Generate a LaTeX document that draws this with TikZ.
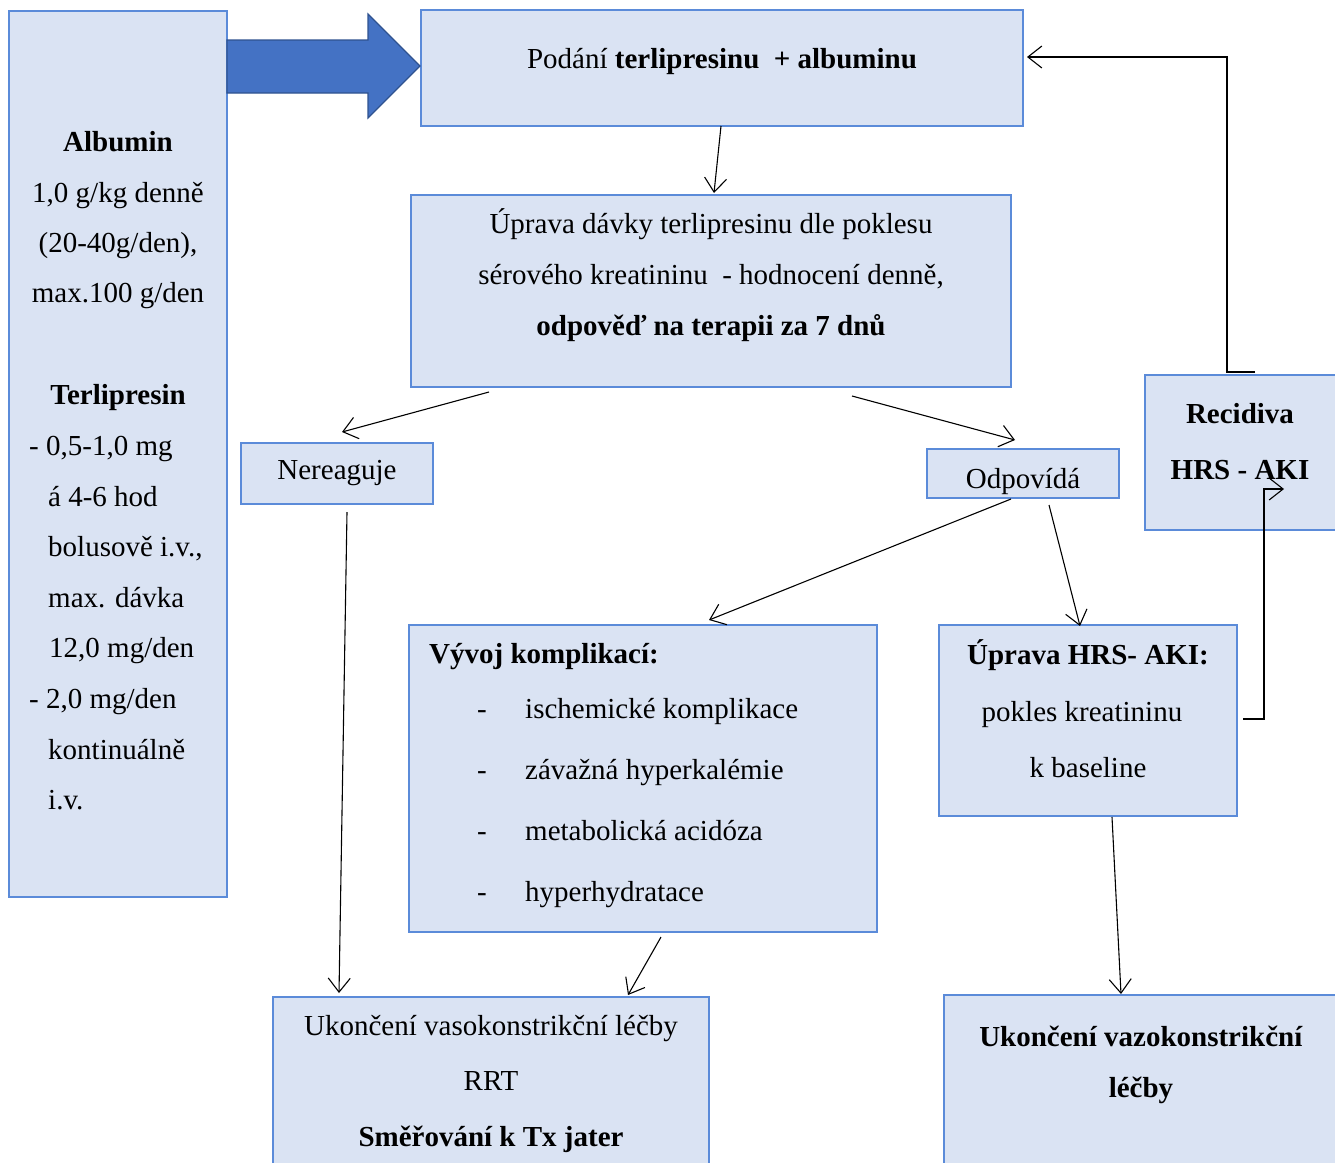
\documentclass[tikz,border=0pt]{standalone}
\usepackage{fontspec}
\setmainfont{Liberation Serif}
\usetikzlibrary{arrows.meta,calc}
\definecolor{boxfill}{HTML}{DAE3F3}
\definecolor{boxline}{HTML}{5B8BD9}
\definecolor{bigarrow}{HTML}{4472C4}
\definecolor{bigarrowline}{HTML}{2F528F}
\tikzset{
  panel/.style={draw=boxline, fill=boxfill, line width=1.3pt, anchor=north west, inner sep=0pt, outer sep=0pt},
  txt/.style={anchor=base, inner sep=0pt, font=\fontsize{29}{35}\selectfont},
  txtl/.style={txt, anchor=base west},
  conn/.style={-{Straight Barb[length=14pt,width=22pt,line width=1.1pt]}, line width=1.1pt, black},
}
\begin{document}
\begin{tikzpicture}[x=1pt,y=-1pt]
\clip (0,0) rectangle (1335,1162);
\fill[white] (0,0) rectangle (1335,1162);

% boxes
\node[panel, minimum width=218, minimum height=886] (alb) at (9,11) {};
\node[panel, minimum width=602, minimum height=116] (top) at (421,10) {};
\node[panel, minimum width=600, minimum height=192] (dose) at (411,195) {};
\node[panel, minimum width=192, minimum height=61] (nr) at (241,443) {};
\node[panel, minimum width=192, minimum height=49] (od) at (927,449) {};
\node[panel, minimum width=210, minimum height=155] (rec) at (1145,375) {};
\node[panel, minimum width=468, minimum height=307] (cx) at (409,625) {};
\node[panel, minimum width=298, minimum height=191] (hrs) at (939,625) {};
\node[panel, minimum width=436, minimum height=200] (endL) at (273,997) {};
\node[panel, minimum width=420, minimum height=200] (endR) at (944,995) {};

% big block arrow
\draw[fill=bigarrow, draw=bigarrowline, line width=1.2pt, line join=miter]
  (227,40) -- (368,40) -- (368,14) -- (420,66) -- (368,118) -- (368,93) -- (227,93) -- cycle;

% left box text
\node[txt] (t1) at (118,151) {\textbf{Albumin}};
\node[txt] (t2) at (118,202) {1,0 g/kg denně};
\node[txt] (t3) at (118,252) {(20-40g/den),};
\node[txt] (t4) at (118,302) {max.100 g/den};
\node[txt] (t5) at (118,404) {\textbf{Terlipresin}};
\node[txtl] (t6) at (29,455) {- 0,5-1,0 mg};
\node[txtl] (t7) at (48,506) {á 4-6 hod};
\node[txtl] (t8) at (48,556) {bolusově i.v.,};
\node[txtl] (t9) at (48,607) {max. dávka};
\node[txtl] (t10) at (49,657) {12,0 mg/den};
\node[txtl] (t11) at (29,708) {- 2,0 mg/den};
\node[txtl] (t12) at (48,759) {kontinuálně};
\node[txtl] (t13) at (48,809) {i.v.};

% top box
\node[txt] (p1) at (722,68) {Podání \textbf{terlipresinu\ \ + albuminu}};

% dose box
\node[txt] (d1) at (711,233) {Úprava dávky terlipresinu dle poklesu};
\node[txt] (d2) at (711,284) {sérového kreatininu\ \ - hodnocení denně,};
\node[txt] (d3) at (711,335) {\textbf{odpověď na terapii za 7 dnů}};

% Nereaguje
\node[txt] (n1) at (337,479) {Nereaguje};

% Odpovida (clipped by its box)
\begin{scope}
\clip (od.north west) rectangle (od.south east);
\node[txt] (o1) at (1023,488) {Odpovídá};
\end{scope}

% Recidiva
\node[txt] (r1) at (1240,423) {\textbf{Recidiva}};
\node[txt] (r2) at (1240,479) {\textbf{HRS - AKI}};

% complications
\node[txtl] (c0) at (429,663) {\textbf{Vývoj komplikací:}};
\foreach \yy/\tt [count=\i] in {718/ischemické komplikace, 779/závažná hyperkalémie, 840/metabolická acidóza, 901/hyperhydratace}{
  \node[txtl] (cd\i) at (477,\yy) {-};
  \node[txtl] (ci\i) at (525,\yy) {\tt};
}

% HRS resolution
\node[txt] (h1) at (1088,664) {\textbf{Úprava HRS- AKI:}};
\node[txt] (h2) at (1082,721) {pokles kreatininu};
\node[txt] (h3) at (1088,777) {k baseline};

% bottom left
\node[txt] (e1) at (491,1035) {Ukončení vasokonstrikční léčby};
\node[txt] (e2) at (491,1090) {RRT};
\node[txt] (e3) at (491,1146) {\textbf{Směřování k Tx jater}};

% bottom right
\node[txt] (f1) at (1141,1046) {\textbf{Ukončení vazokonstrikční}};
\node[txt] (f2) at (1141,1097) {\textbf{léčby}};

% connectors
\draw[conn] ([shift={(-1,0)}]top.south) -- ([shift={(3,-2)}]dose.north);
\draw[conn] ([shift={(-222,5)}]dose.south) -- ([shift={(5,-11)}]nr.north);
\draw[conn] ([shift={(141,9)}]dose.south) -- ([shift={(-8,-9)}]od.north);
\draw[conn] ([shift={(-12,1)}]od.south) -- ([shift={(66,-5)}]cx.north);
\draw[conn] ([shift={(26,7)}]od.south) -- ([shift={(-8,1)}]hrs.north);
\draw[conn] ([shift={(10,8)}]nr.south) -- ([shift={(-152,-4)}]endL.north);
\draw[conn] ([shift={(18,5)}]cx.south) -- ([shift={(137,-2)}]endL.north);
\draw[conn] ([shift={(24,1)}]hrs.south) -- ([shift={(-33,-1)}]endR.north);
\draw[conn] ([shift={(6,-1.5)}]hrs.east) -- ++(21,0) |- ([shift={(34,114)}]rec.north);
\draw[conn] ([shift={(5,-3)}]rec.north) -- ++(-28,0) |- ([shift={(4,-11)}]top.east);
\end{tikzpicture}
\end{document}
